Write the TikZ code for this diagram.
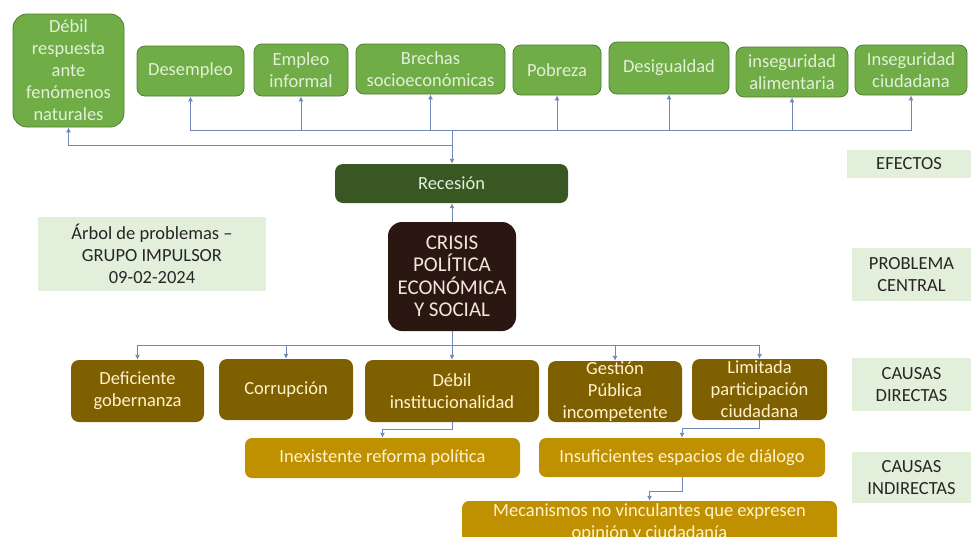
\documentclass[tikz,border=0pt]{standalone}
\usepackage{fontspec}
\setmainfont{Carlito}
\usetikzlibrary{arrows.meta}
\definecolor{efverde}{HTML}{70AD47}
\definecolor{efborde}{HTML}{507E32}
\definecolor{eftexto}{HTML}{E2F0D9}
\definecolor{recverde}{HTML}{385723}
\definecolor{crisiscafe}{HTML}{2B1712}
\definecolor{crisistexto}{HTML}{F2E6DC}
\definecolor{dircafe}{HTML}{7F6000}
\definecolor{indoro}{HTML}{BF9000}
\definecolor{causatexto}{HTML}{FFF2CC}
\definecolor{etiqverde}{HTML}{E2EFDA}
\definecolor{etiqtexto}{HTML}{262626}
\definecolor{flechaazul}{HTML}{6F88B8}
\begin{document}
\begin{tikzpicture}[x=1pt,y=-1pt,
  every node/.style={font=\fontsize{18.5}{22}\selectfont, align=center, inner sep=0pt},
  efecto/.style={fill=efverde, draw=efborde, line width=0.8pt, text=eftexto, rounded corners=8pt},
  directa/.style={fill=dircafe, text=causatexto, rounded corners=8pt},
  indirecta/.style={fill=indoro, text=causatexto, rounded corners=7pt},
  etiqueta/.style={fill=etiqverde, text=etiqtexto},
  conexion/.style={draw=flechaazul, line width=0.9pt, -{Latex[length=5pt,width=5pt]}}]
\useasboundingbox (0,0) rectangle (972,536);
\clip (0,0) rectangle (972,536);

\node[efecto, minimum width=111pt, minimum height=113pt, rounded corners=14pt] (debilresp) at (68.5,70.5) {Débil\\respuesta\\ante\\fenómenos\\naturales};
\node[efecto, minimum width=107pt, minimum height=50pt] (desempleo) at (190.5,71) {Desempleo};
\node[efecto, minimum width=94pt, minimum height=52pt] (empleo) at (301,70) {Empleo\\informal};
\node[efecto, minimum width=149pt, minimum height=50pt] (brechas) at (430.5,69) {Brechas\\socioeconómicas};
\node[efecto, minimum width=88pt, minimum height=50pt] (pobreza) at (557,70) {Pobreza};
\node[efecto, minimum width=120pt, minimum height=52pt] (desigualdad) at (669,68) {Desigualdad};
\node[efecto, minimum width=112pt, minimum height=50pt] (alimentaria) at (792,72) {inseguridad\\alimentaria};
\node[efecto, minimum width=112pt, minimum height=50pt] (ciudadana) at (911,70) {Inseguridad\\ciudadana};

\node[fill=recverde, text=eftexto, rounded corners=8pt, minimum width=233pt, minimum height=39pt] (recesion) at (451.5,183.5) {Recesión};
\node[fill=crisiscafe, text=crisistexto, rounded corners=14pt, minimum width=128pt, minimum height=109pt, font=\fontsize{21}{22.5}\selectfont] (crisis) at (452,276.5) {CRISIS\\POLÍTICA\\ECONÓMICA\\Y SOCIAL};

\node[etiqueta, minimum width=228pt, minimum height=74pt] (arbol) at (152,254) {Árbol de problemas –\\GRUPO IMPULSOR\\09-02-2024};
\node[etiqueta, minimum width=124pt, minimum height=28pt] (efectos) at (909,164) {EFECTOS};
\node[etiqueta, minimum width=119pt, minimum height=53pt] (central) at (911.5,274.5) {PROBLEMA\\CENTRAL};
\node[etiqueta, minimum width=119pt, minimum height=53pt] (directas) at (911.5,384.5) {CAUSAS\\DIRECTAS};
\node[etiqueta, minimum width=119pt, minimum height=51pt] (indirectas) at (911.5,477.5) {CAUSAS\\INDIRECTAS};

\node[directa, minimum width=133pt, minimum height=62pt] (gobernanza) at (137.5,391) {Deficiente\\gobernanza};
\node[directa, minimum width=134pt, minimum height=61pt] (corrupcion) at (286,389.5) {Corrupción};
\node[directa, minimum width=174pt, minimum height=62pt] (debilinst) at (452,391) {Débil\\institucionalidad};
\node[directa, minimum width=134pt, minimum height=61pt] (gestion) at (615,391.5) {Gestión\\Pública\\incompetente};
\node[directa, minimum width=135pt, minimum height=61pt] (limitada) at (759.5,389.5) {Limitada\\participación\\ciudadana};

\node[indirecta, minimum width=275pt, minimum height=40pt] (reforma) at (382.5,458) {Inexistente reforma política};
\node[indirecta, minimum width=286pt, minimum height=39pt] (espacios) at (682,457.5) {Insuficientes espacios de diálogo};
\node[indirecta, minimum width=375pt, minimum height=44pt] (mecanismos) at (649.5,523) {Mecanismos no vinculantes que expresen\\opinión y ciudadanía};

\coordinate (jsup) at (452,130);
\coordinate (jinf) at (452,145);
\coordinate (jcausa) at (452,345);

\draw[conexion] (jsup) -- (jsup |- recesion.north);
\draw[conexion] (jinf) -| (debilresp.south);
\foreach \e in {desempleo,empleo,brechas,pobreza,desigualdad,alimentaria,ciudadana}
  \draw[conexion] (jsup) -| (\e.south);
\draw[conexion] (crisis.north) -- (crisis.north |- recesion.south);

\draw[draw=flechaazul, line width=0.9pt] (crisis.south) -- (jcausa);
\foreach \c in {gobernanza,corrupcion,debilinst,gestion,limitada}
  \draw[conexion] (jcausa) -| (\c.north);

\draw[conexion] (debilinst.south) -- ++(0,7) -| (reforma.north);
\draw[conexion] (limitada.south) -- ++(0,8) -| (espacios.north);
\draw[conexion] (espacios.south) -- ++(0,14) -| (mecanismos.north);
\end{tikzpicture}
\end{document}
